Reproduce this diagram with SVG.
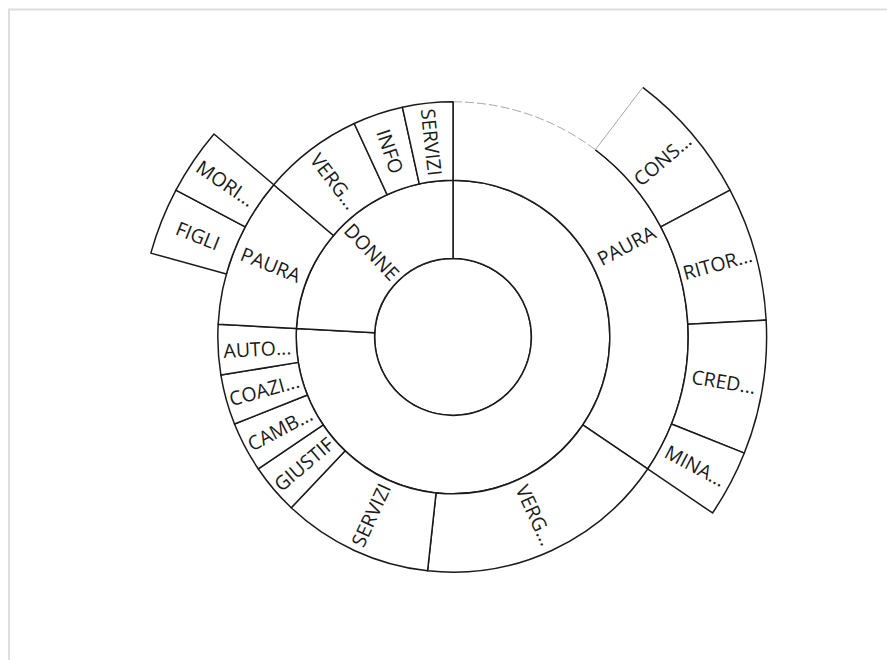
<svg xmlns="http://www.w3.org/2000/svg" width="887" height="660" viewBox="0 0 887 660">
<style>
.seg{fill:#fff;stroke:#1a1a1a;stroke-width:1.5;stroke-linejoin:round}
.fillonly{fill:#fff;stroke:none}
.edge{fill:none;stroke:#1a1a1a;stroke-width:1.5;stroke-linejoin:round}
.faint{fill:none;stroke:#a8a8a8;stroke-width:1}
.lbl{font-family:"Open Sans","Liberation Sans",sans-serif;font-size:19.5px;fill:#1a1a1a;text-anchor:middle;dominant-baseline:central}
</style>
<rect width="887" height="660" fill="#fff"/>
<path d="M9,660 V9.5 H887" fill="none" stroke="#dedede" stroke-width="2"/>

<g id="root"><circle cx="453" cy="337" r="78.4" class="seg"/></g>

<g id="ring1-main"><path class="seg" d="M453,180.2 A156.8,156.8 0 1 1 296.43,328.51 L374.72,332.76 A78.4,78.4 0 1 0 453,258.6 Z"/></g>
<g id="donne"><path class="seg" d="M296.43,328.51 A156.8,156.8 0 0 1 453,180.2 L453,258.6 A78.4,78.4 0 0 0 374.72,332.76 Z"/>
<text class="lbl" transform="translate(372.12,251.62) rotate(46.55)">DONNE</text></g>

<g id="paura-right">
<path class="fillonly" d="M453,101.8 A235.2,235.2 0 0 1 647.67,468.99 L582.78,424.99 A156.8,156.8 0 0 0 453,180.2 Z"/>
<path class="edge" d="M595.34,149.76 A235.2,235.2 0 0 1 647.67,468.99 L582.78,424.99 A156.8,156.8 0 0 0 453,180.2 L453,101.8"/>
<path class="faint" stroke-dasharray="9 3" d="M453,101.8 A235.2,235.2 0 0 1 595.34,149.76"/>
<text class="lbl" transform="translate(626.17,245.19) rotate(-27.93)">PAURA</text></g>

<g id="verg-bottom"><path class="seg" d="M647.67,468.99 A235.2,235.2 0 0 1 427.57,570.82 L436.05,492.88 A156.8,156.8 0 0 0 582.78,424.99 Z"/>
<text class="lbl" transform="translate(535.3,514.89) rotate(65.17)">VERG...</text></g>

<g id="servizi-bottom"><path class="seg" d="M427.57,570.82 A235.2,235.2 0 0 1 291.25,507.76 L345.17,450.84 A156.8,156.8 0 0 0 436.05,492.88 Z"/>
<text class="lbl" transform="translate(370.7,514.89) rotate(-65.17)">SERVIZI</text></g>

<g id="giustif"><path class="seg" d="M291.25,507.76 A235.2,235.2 0 0 1 258.33,468.99 L323.22,424.99 A156.8,156.8 0 0 0 345.17,450.84 Z"/>
<text class="lbl" transform="translate(303.6,463.88) rotate(-40.34)">GIUSTIF</text></g>

<g id="camb"><path class="seg" d="M258.33,468.99 A235.2,235.2 0 0 1 234.5,424.06 L307.34,395.04 A156.8,156.8 0 0 0 323.22,424.99 Z"/>
<text class="lbl" transform="translate(279.83,428.81) rotate(-27.93)">CAMB...</text></g>

<g id="coazi"><path class="seg" d="M234.5,424.06 A235.2,235.2 0 0 1 220.9,375.05 L298.26,362.37 A156.8,156.8 0 0 0 307.34,395.04 Z"/>
<text class="lbl" transform="translate(264.14,389.43) rotate(-15.52)">COAZI...</text></g>

<g id="auto"><path class="seg" d="M220.9,375.05 A235.2,235.2 0 0 1 218.15,324.27 L296.43,328.51 A156.8,156.8 0 0 0 298.26,362.37 Z"/>
<text class="lbl" transform="translate(257.29,348.6) rotate(-3.1)">AUTO...</text></g>

<g id="paura-left"><path class="seg" d="M218.15,324.27 A235.2,235.2 0 0 1 273.74,184.73 L333.49,235.49 A156.8,156.8 0 0 0 296.43,328.51 Z"/>
<text class="lbl" transform="translate(270.92,264.45) rotate(21.72)">PAURA</text></g>

<g id="verg-top"><path class="seg" d="M273.74,184.73 A235.2,235.2 0 0 1 354.24,123.54 L387.16,194.69 A156.8,156.8 0 0 0 333.49,235.49 Z"/>
<text class="lbl" transform="translate(334.38,180.96) rotate(52.76)">VERG...</text></g>

<g id="info"><path class="seg" d="M354.24,123.54 A235.2,235.2 0 0 1 402.44,107.3 L419.29,183.87 A156.8,156.8 0 0 0 387.16,194.69 Z"/>
<text class="lbl" transform="translate(390.42,151.26) rotate(71.38)">INFO</text></g>

<g id="servizi-top"><path class="seg" d="M402.44,107.3 A235.2,235.2 0 0 1 453,101.8 L453,180.2 A156.8,156.8 0 0 0 419.29,183.87 Z"/>
<text class="lbl" transform="translate(431.81,142.15) rotate(83.79)">SERVIZI</text></g>

<g id="cons">
<path class="fillonly" d="M642.79,87.34 A313.6,313.6 0 0 1 730.07,190.11 L660.8,226.83 A235.2,235.2 0 0 0 595.34,149.76 Z"/>
<path class="edge" d="M642.79,87.34 A313.6,313.6 0 0 1 730.07,190.11 L660.8,226.83 A235.2,235.2 0 0 0 595.34,149.76"/>
<path class="faint" d="M595.34,149.76 L642.79,87.34"/>
<text class="lbl" transform="translate(662.16,159.37) rotate(-40.34)">CONS...</text></g>

<g id="ritor"><path class="seg" d="M730.07,190.11 A313.6,313.6 0 0 1 766.14,320.02 L687.85,324.27 A235.2,235.2 0 0 0 660.8,226.83 Z"/>
<text class="lbl" transform="translate(717.4,263.59) rotate(-15.52)">RITOR...</text></g>

<g id="cred"><path class="seg" d="M766.14,320.02 A313.6,313.6 0 0 1 744.33,453.08 L671.5,424.06 A235.2,235.2 0 0 0 687.85,324.27 Z"/>
<text class="lbl" transform="translate(723.79,381.39) rotate(9.31)">CRED...</text></g>

<g id="mina"><path class="seg" d="M744.33,453.08 A313.6,313.6 0 0 1 712.56,512.99 L647.67,468.99 A235.2,235.2 0 0 0 671.5,424.06 Z"/>
<text class="lbl" transform="translate(695.44,465.53) rotate(27.93)">MINA...</text></g>

<g id="figli"><path class="seg" d="M150.83,253.11 A313.6,313.6 0 0 1 175.93,190.11 L245.2,226.83 A235.2,235.2 0 0 0 226.37,274.08 Z"/>
<text class="lbl" transform="translate(198.09,235.43) rotate(21.72)">FIGLI</text></g>

<g id="mori"><path class="seg" d="M175.93,190.11 A313.6,313.6 0 0 1 213.98,133.98 L273.74,184.73 A235.2,235.2 0 0 0 245.2,226.83 Z"/>
<text class="lbl" transform="translate(225.88,183.01) rotate(34.14)">MORI...</text></g>
</svg>
